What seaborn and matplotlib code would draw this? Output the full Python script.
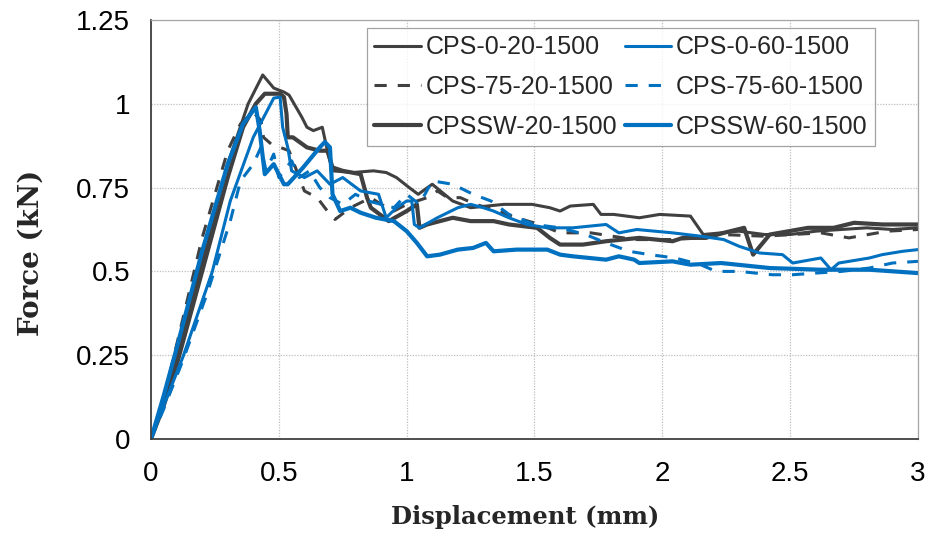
import numpy as np
import pandas as pd
import matplotlib
matplotlib.use("Agg")
import matplotlib.pyplot as plt
import seaborn as sns

# ---------------- data ----------------
x_cps0_20 = [0, 0.05, 0.1, 0.2, 0.3, 0.38, 0.437, 0.48, 0.52, 0.54, 0.59, 0.61, 0.635, 0.67, 0.69,
             0.71, 0.79, 0.87, 0.92, 0.96, 1.01, 1.045, 1.10, 1.18, 1.25, 1.38, 1.49, 1.56, 1.60,
             1.64, 1.73, 1.76, 1.81, 1.91, 1.99, 2.11, 2.16, 2.23, 2.30, 2.40, 2.50, 2.60, 2.70,
             2.80, 2.90, 3.0]
y_cps0_20 = [0, 0.11, 0.24, 0.53, 0.82, 1.0, 1.086, 1.047, 1.035, 1.026, 0.96, 0.93, 0.92, 0.93, 0.86,
             0.80, 0.795, 0.80, 0.795, 0.78, 0.75, 0.73, 0.76, 0.71, 0.69, 0.70, 0.70, 0.69, 0.68,
             0.695, 0.70, 0.67, 0.67, 0.66, 0.67, 0.665, 0.61, 0.615, 0.62, 0.61, 0.61, 0.62, 0.625,
             0.63, 0.625, 0.63]

x_cps75_20 = [0, 0.05, 0.1, 0.2, 0.3, 0.35, 0.40, 0.43, 0.44, 0.47, 0.54, 0.57, 0.60, 0.65, 0.70,
              0.72, 0.78, 0.86, 0.90, 0.95, 1.0, 1.04, 1.08, 1.12, 1.16, 1.21, 1.27, 1.36, 1.43,
              1.52, 1.60, 1.72, 1.89, 2.04, 2.15, 2.23, 2.40, 2.62, 2.73, 2.88, 3.0]
y_cps75_20 = [0, 0.12, 0.28, 0.60, 0.86, 0.94, 0.975, 0.95, 0.90, 0.88, 0.86, 0.80, 0.74, 0.72, 0.67,
              0.655, 0.69, 0.72, 0.70, 0.68, 0.70, 0.71, 0.72, 0.74, 0.72, 0.72, 0.70, 0.68, 0.66,
              0.64, 0.615, 0.615, 0.595, 0.595, 0.60, 0.61, 0.605, 0.615, 0.60, 0.62, 0.625]

x_cpssw_20 = [0, 0.05, 0.1, 0.2, 0.3, 0.36, 0.41, 0.445, 0.505, 0.52, 0.53, 0.535, 0.555, 0.61,
              0.66, 0.69, 0.71, 0.75, 0.82, 0.845, 0.86, 0.93, 1.0, 1.04, 1.05, 1.08, 1.18, 1.25,
              1.34, 1.40, 1.51, 1.56, 1.60, 1.69, 1.78, 1.91, 2.04, 2.08, 2.17, 2.24, 2.32, 2.355,
              2.42, 2.57, 2.67, 2.75, 2.86, 3.0]
y_cpssw_20 = [0, 0.10, 0.22, 0.50, 0.78, 0.93, 1.0, 1.03, 1.03, 1.02, 0.97, 0.90, 0.90, 0.87,
              0.86, 0.86, 0.81, 0.80, 0.79, 0.72, 0.69, 0.65, 0.68, 0.70, 0.63, 0.64, 0.66, 0.65,
              0.65, 0.64, 0.63, 0.60, 0.58, 0.58, 0.59, 0.60, 0.59, 0.60, 0.60, 0.615, 0.63, 0.55,
              0.61, 0.63, 0.63, 0.645, 0.64, 0.64]

x_cps0_60 = [0, 0.05, 0.125, 0.24, 0.31, 0.40, 0.48, 0.505, 0.515, 0.535, 0.55, 0.60, 0.65, 0.70,
             0.75, 0.82, 0.89, 0.92, 0.96, 1.0, 1.02, 1.03, 1.05, 1.12, 1.20, 1.25, 1.30, 1.34,
             1.40, 1.47, 1.55, 1.65, 1.78, 1.83, 1.90, 2.04, 2.15, 2.24, 2.30, 2.38, 2.47, 2.51,
             2.62, 2.66, 2.69, 2.81, 2.86, 2.94, 3.0]
y_cps0_60 = [0, 0.10, 0.245, 0.50, 0.71, 0.90, 1.017, 1.02, 0.93, 0.87, 0.80, 0.78, 0.80, 0.76,
             0.78, 0.74, 0.73, 0.66, 0.69, 0.71, 0.71, 0.64, 0.63, 0.66, 0.69, 0.70, 0.69, 0.68,
             0.66, 0.64, 0.63, 0.63, 0.64, 0.615, 0.625, 0.615, 0.605, 0.595, 0.575, 0.555, 0.55,
             0.525, 0.54, 0.505, 0.525, 0.54, 0.55, 0.56, 0.565]

x_cps75_60 = [0, 0.05, 0.125, 0.22, 0.31, 0.35, 0.38, 0.40, 0.43, 0.45, 0.48, 0.50, 0.55, 0.58,
              0.62, 0.66, 0.70, 0.75, 0.80, 0.85, 0.90, 0.95, 1.0, 1.05, 1.10, 1.18, 1.26, 1.33,
              1.40, 1.50, 1.60, 1.70, 1.78, 1.87, 1.95, 2.05, 2.15, 2.21, 2.30, 2.43, 2.51, 2.60,
              2.70, 2.81, 2.90, 3.0]
y_cps75_60 = [0, 0.09, 0.235, 0.435, 0.65, 0.77, 0.80, 0.82, 0.87, 0.80, 0.85, 0.78, 0.83, 0.78,
              0.80, 0.75, 0.72, 0.70, 0.73, 0.71, 0.70, 0.69, 0.73, 0.70, 0.77, 0.76, 0.73, 0.71,
              0.67, 0.64, 0.63, 0.61, 0.585, 0.56, 0.55, 0.54, 0.52, 0.50, 0.50, 0.49, 0.49, 0.495,
              0.50, 0.51, 0.525, 0.53]

x_cpssw_60 = [0, 0.05, 0.1, 0.2, 0.3, 0.36, 0.41, 0.425, 0.445, 0.48, 0.52, 0.535, 0.595, 0.66,
              0.68, 0.70, 0.71, 0.74, 0.78, 0.82, 0.88, 0.95, 1.0, 1.04, 1.08, 1.13, 1.20, 1.26,
              1.31, 1.34, 1.43, 1.55, 1.60, 1.65, 1.78, 1.83, 1.89, 1.91, 2.04, 2.11, 2.23, 2.42,
              2.62, 2.81, 3.0]
y_cpssw_60 = [0, 0.13, 0.27, 0.56, 0.82, 0.94, 0.99, 0.92, 0.79, 0.82, 0.76, 0.76, 0.81, 0.87,
              0.886, 0.87, 0.73, 0.68, 0.69, 0.675, 0.66, 0.65, 0.62, 0.585, 0.545, 0.55, 0.565, 0.57,
              0.585, 0.56, 0.565, 0.565, 0.55, 0.545, 0.535, 0.545, 0.535, 0.525, 0.53, 0.52, 0.525,
              0.51, 0.505, 0.505, 0.495]

series_names = ["CPS-0-20-1500", "CPS-75-20-1500", "CPSSW-20-1500",
                "CPS-0-60-1500", "CPS-75-60-1500", "CPSSW-60-1500"]
series_x = [x_cps0_20, x_cps75_20, x_cpssw_20, x_cps0_60, x_cps75_60, x_cpssw_60]
series_y = [y_cps0_20, y_cps75_20, y_cpssw_20, y_cps0_60, y_cps75_60, y_cpssw_60]

x_ticks = [0, 0.5, 1, 1.5, 2, 2.5, 3]
x_ticklabels = ["0", "0.5", "1", "1.5", "2", "2.5", "3"]
y_ticks = [0, 0.25, 0.5, 0.75, 1.0, 1.25]
y_ticklabels = ["0", "0.25", "0.5", "0.75", "1", "1.25"]

# ---------------- styles ----------------
GRAY = "#404040"
BLUE = "#0070C0"
DASH = (0, (4.0, 3.6))
styles = [
    dict(color=GRAY, lw=2.2, ls="-"),
    dict(color=GRAY, lw=2.2, ls=DASH),
    dict(color=GRAY, lw=3.0, ls="-"),
    dict(color=BLUE, lw=2.2, ls="-"),
    dict(color=BLUE, lw=2.2, ls=DASH),
    dict(color=BLUE, lw=3.0, ls="-"),
]

sns.set_style("white")
plt.rcParams["font.family"] = ["Liberation Sans", "DejaVu Sans"]

fig = plt.figure(figsize=(9.28, 5.33), dpi=100)
ax = fig.add_axes([151 / 928, (533 - 439) / 533, (918 - 151) / 928, (439 - 20) / 533])

for name, xs, ys, st in zip(series_names, series_x, series_y, styles):
    df = pd.DataFrame({"Displacement": xs, "Force": ys})
    sns.lineplot(data=df, x="Displacement", y="Force", ax=ax, estimator=None, sort=False,
                 color=st["color"], linewidth=st["lw"], linestyle=st["ls"], label=name,
                 solid_joinstyle="round", solid_capstyle="round", dash_capstyle="butt")

ax.set_xlim(0, 3)
ax.set_ylim(0, 1.25)
ax.set_xticks(x_ticks)
ax.set_xticklabels(x_ticklabels)
ax.set_yticks(y_ticks)
ax.set_yticklabels(y_ticklabels)
ax.tick_params(axis="both", which="major", labelsize=20, direction="out", length=8,
               width=1.1, color="#404040", pad=7, labelcolor="black")
ax.tick_params(axis="x", pad=8)

ax.grid(True, linestyle=(0, (1, 1.2)), color="#BFBFBF", linewidth=0.9)
ax.set_axisbelow(True)
for side in ["left", "bottom"]:
    ax.spines[side].set_color("#404040")
    ax.spines[side].set_linewidth(1.3)
for side in ["top", "right"]:
    ax.spines[side].set_color("#A6A6A6")
    ax.spines[side].set_linewidth(0.9)

ax.set_xlabel("Displacement (mm)", family=["DejaVu Serif"], weight="bold", size=17.5)
ax.set_ylabel("Force (kN)", family=["DejaVu Serif"], weight="bold", size=20)
ax.xaxis.set_label_coords((525 - 151) / 767, (439 - 505) / 419)
ax.yaxis.set_label_coords((45 - 151) / 767, (439 - 253) / 419)

handles, labels = ax.get_legend_handles_labels()
leg = ax.legend(handles, labels, ncol=2, loc="upper left",
                bbox_to_anchor=(367 / 928, (533 - 28) / 533), bbox_transform=fig.transFigure,
                fontsize=18, frameon=True, fancybox=False, edgecolor="#8C8C8C",
                handlelength=1.85, handletextpad=0.2, columnspacing=0.3, labelspacing=0.62,
                borderpad=0.3, borderaxespad=0)
leg.get_frame().set_linewidth(0.9)

fig.savefig("out.png", dpi=100)
